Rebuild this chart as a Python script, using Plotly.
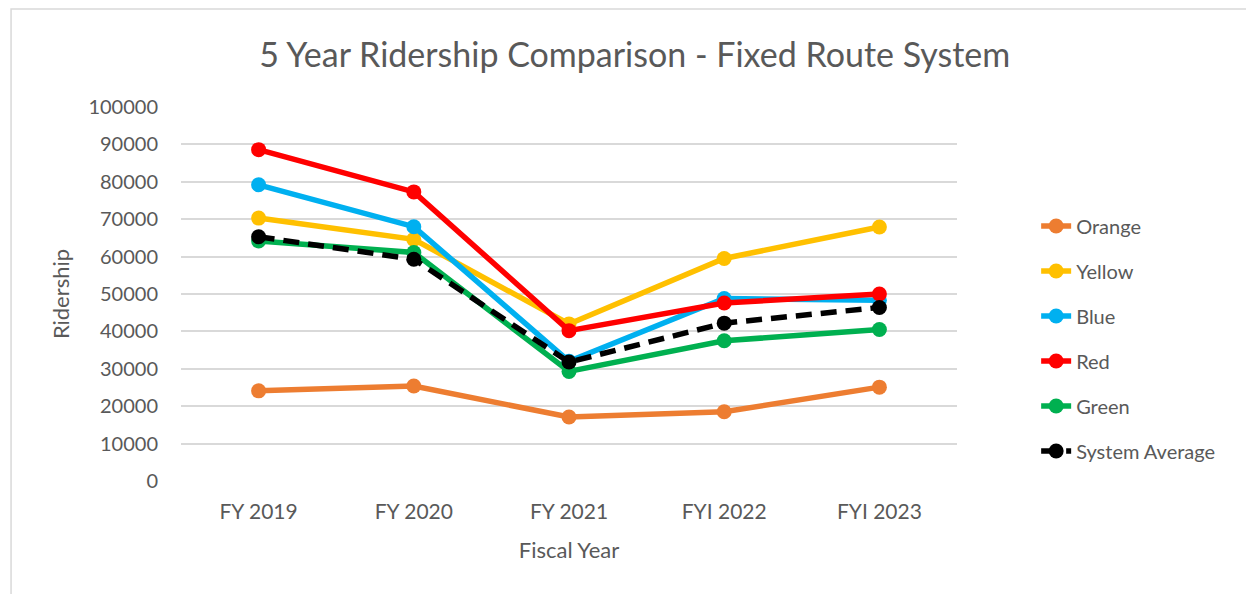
import plotly.graph_objects as go

years = ["FY 2019", "FY 2020", "FY 2021", "FYI 2022", "FYI 2023"]
orange = [24100, 25400, 17100, 18500, 25100]
yellow = [70300, 64600, 42000, 59500, 67900]
blue = [79200, 68000, 32000, 48800, 48300]
red = [88600, 77300, 40200, 47600, 50000]
green = [64200, 61100, 29300, 37500, 40500]
system_avg = [65300, 59300, 31800, 42200, 46400]

series = [
    ("Orange", orange, "#ED7D31", "solid"),
    ("Yellow", yellow, "#FFC000", "solid"),
    ("Blue", blue, "#00B0F0", "solid"),
    ("Red", red, "#FF0000", "solid"),
    ("Green", green, "#00B050", "solid"),
    ("System Average", system_avg, "#000000", "16px,9px"),
]

FONT = "Lato"
GRAY = "#595959"

fig = go.Figure()
for name, vals, col, dash in series:
    fig.add_trace(go.Scatter(
        x=years, y=vals, name=name, mode="lines+markers",
        line=dict(color=col, width=5.5, dash=dash),
        marker=dict(color=col, size=15),
        legendgroup=name,
    ))

fig.update_layout(
    width=1246, height=586,
    margin=dict(l=173, r=297, t=99, b=113),
    paper_bgcolor="white", plot_bgcolor="white",
    font=dict(family=FONT, color=GRAY, size=20),
    title=dict(text="5 Year Ridership Comparison - Fixed Route System",
               x=0.503, xref="container", xanchor="center",
               y=0.92, yref="container", yanchor="middle",
               font=dict(family=FONT, size=34, color=GRAY)),
    legend=dict(x=1.102, y=0.734, xanchor="left", yanchor="top",
                font=dict(family=FONT, size=20, color=GRAY),
                tracegroupgap=16, bgcolor="rgba(0,0,0,0)"),
    showlegend=True,
    shapes=[dict(type="rect", xref="paper", yref="paper",
                 x0=-0.219, x1=1.4, y0=-0.4, y1=1.262,
                 line=dict(color="#D9D9D9", width=1.5), fillcolor="rgba(0,0,0,0)", layer="below")],
)
fig.update_xaxes(
    range=[-0.5, 4.5],
    showgrid=False, showline=False, ticks="", zeroline=False,
    title=dict(text="Fiscal Year", font=dict(size=22, color=GRAY), standoff=20),
    tickfont=dict(size=21, color=GRAY), ticklabelstandoff=16,
)
fig.update_yaxes(
    range=[0, 100000], dtick=10000, showgrid=True, gridcolor="#D9D9D9", gridwidth=2,
    zeroline=False, showline=False, ticks="", tickformat="d",
    title=dict(text="Ridership", font=dict(size=22, color=GRAY), standoff=12),
    tickfont=dict(size=20, color=GRAY), ticklabelstandoff=22,
)

fig.write_html("out.html")
